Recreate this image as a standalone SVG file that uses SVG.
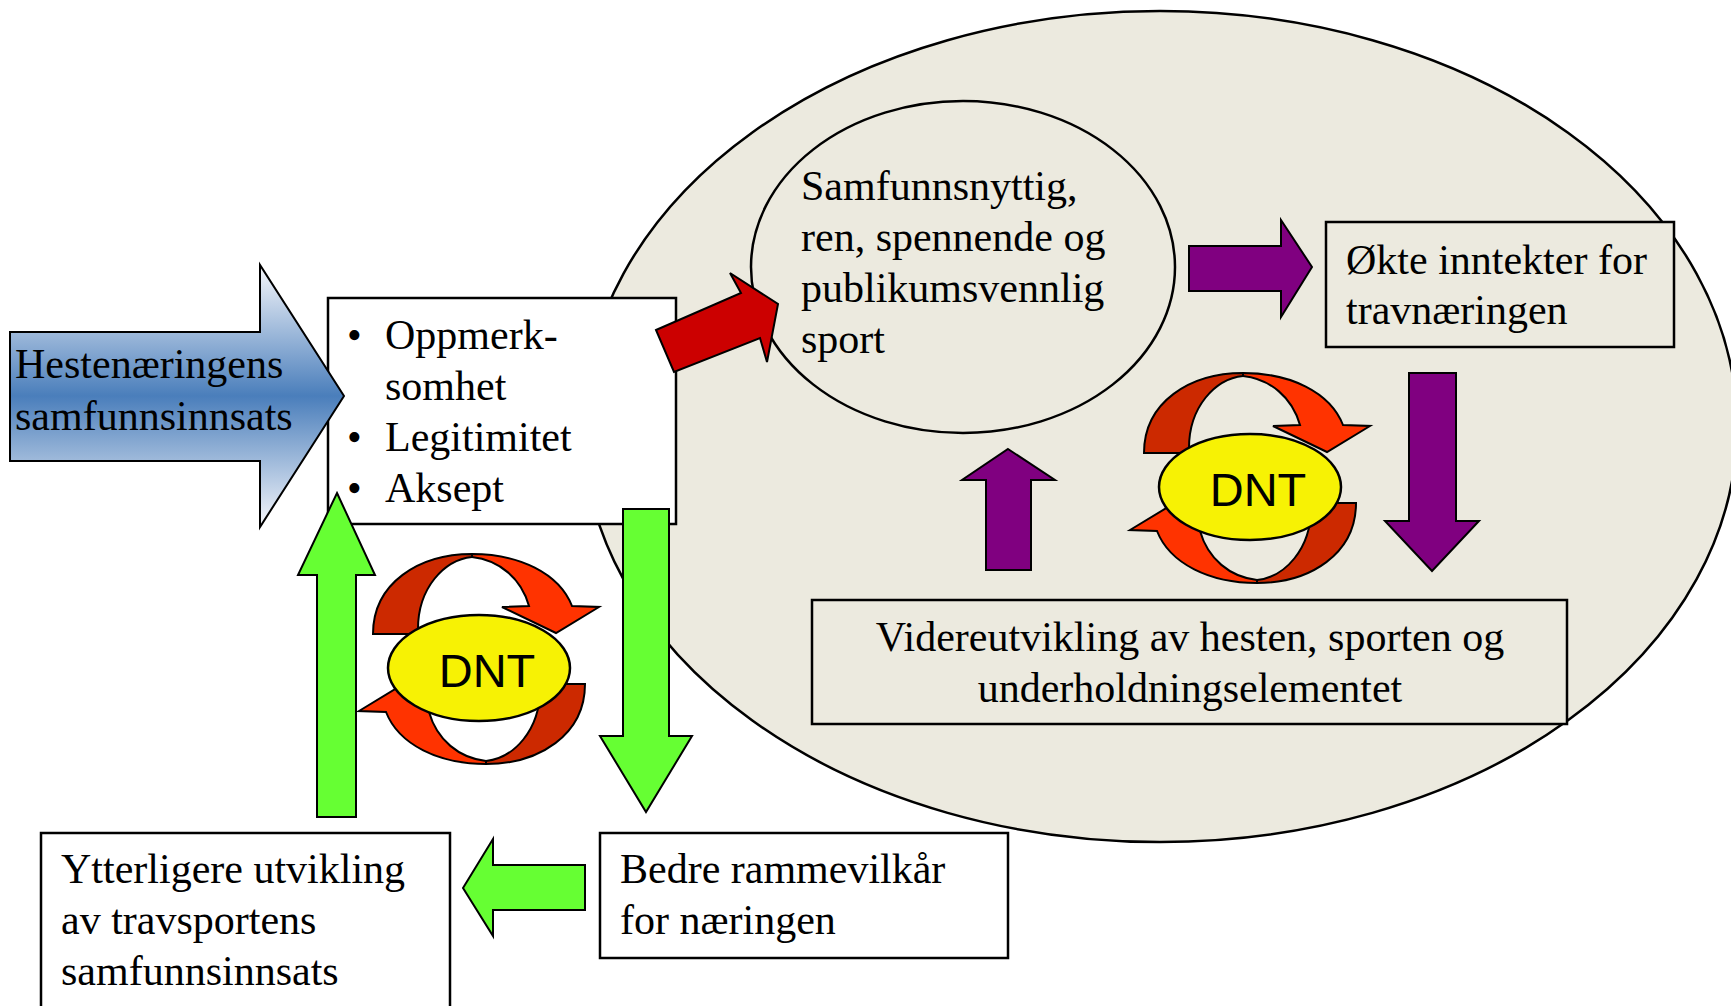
<svg xmlns="http://www.w3.org/2000/svg" width="1731" height="1006" viewBox="0 0 1731 1006">
<defs>
<style>
.t{font-family:"Liberation Serif","Times New Roman",serif;font-size:42px;fill:#000}
.d{font-family:"Liberation Sans",Arial,sans-serif;font-size:47px;fill:#000;text-anchor:middle}
.box{stroke:#000;stroke-width:2.5}
.ln{stroke:#000;stroke-width:2;stroke-linejoin:miter}
.green{fill:#66FF33}
.purple{fill:#800080}
.dk{fill:#CC2900}
.br{fill:#FF3300}
.yel{fill:#F7F204;stroke:#000;stroke-width:2.5}
</style>
<linearGradient id="blueGrad" gradientUnits="userSpaceOnUse" x1="0" y1="265" x2="0" y2="527">
<stop offset="0" stop-color="#F6F7FB"/>
<stop offset="0.5" stop-color="#4A7EBB"/>
<stop offset="1" stop-color="#F6F7FB"/>
</linearGradient>
<g id="cycle">
<path class="dk ln" d="M-106,-34 L-61,-34 L-61,-39 C-61,-80 -35,-108 -7,-111 L-7,-114 C-60,-114 -106,-85 -106,-34 Z"/>
<path class="br ln" d="M-7,-114 C40,-114 80,-95 93,-62 L120,-61 L77,-35 L23,-61 L50,-62 C42,-90 20,-108 -7,-111 Z"/>
<g transform="rotate(180 0 -9)">
<path class="dk ln" d="M-106,-34 L-61,-34 L-61,-39 C-61,-80 -35,-108 -7,-111 L-7,-114 C-60,-114 -106,-85 -106,-34 Z"/>
<path class="br ln" d="M-7,-114 C40,-114 80,-95 93,-62 L120,-61 L77,-35 L23,-61 L50,-62 C42,-90 20,-108 -7,-111 Z"/>
</g>
<ellipse class="yel" cx="0" cy="0" rx="91" ry="53"/>
</g>
</defs>

<g id="bigEllipse">
<ellipse cx="1160" cy="426.5" rx="577" ry="415.5" fill="#ECEADF" stroke="#000" stroke-width="2.5"/>
</g>

<g id="innerEllipse">
<ellipse cx="963" cy="267" rx="212" ry="166" fill="#ECEADF" stroke="#000" stroke-width="2.5"/>
<text class="t" x="801" y="200">Samfunnsnyttig,</text>
<text class="t" x="801" y="251">ren, spennende og</text>
<text class="t" x="801" y="302">publikumsvennlig</text>
<text class="t" x="801" y="353">sport</text>
</g>

<g id="okteBox">
<rect class="box" x="1326" y="222" width="348" height="125" fill="#ECEADF"/>
<text class="t" x="1346" y="274">Økte inntekter for</text>
<text class="t" x="1346" y="324">travnæringen</text>
</g>

<g id="videreBox">
<rect class="box" x="812" y="600" width="755" height="124" fill="#ECEADF"/>
<text class="t" x="1190" y="651" text-anchor="middle">Videreutvikling av hesten, sporten og</text>
<text class="t" x="1190" y="702" text-anchor="middle">underholdningselementet</text>
</g>

<g id="bulletBox">
<rect class="box" x="328" y="298" width="348" height="226" fill="#fff"/>
<text class="t" x="347" y="349">•</text>
<text class="t" x="385" y="349">Oppmerk-</text>
<text class="t" x="385" y="400">somhet</text>
<text class="t" x="347" y="451">•</text>
<text class="t" x="385" y="451">Legitimitet</text>
<text class="t" x="347" y="502">•</text>
<text class="t" x="385" y="502">Aksept</text>
</g>

<g id="ytterligereBox">
<rect class="box" x="41" y="833" width="409" height="180" fill="#fff"/>
<text class="t" x="61" y="883">Ytterligere utvikling</text>
<text class="t" x="61" y="934">av travsportens</text>
<text class="t" x="61" y="985">samfunnsinnsats</text>
</g>

<g id="bedreBox">
<rect class="box" x="600" y="833" width="408" height="125" fill="#fff"/>
<text class="t" x="620" y="883">Bedre rammevilkår</text>
<text class="t" x="620" y="934">for næringen</text>
</g>

<g id="connectors">
<g id="blueArrow">
<path d="M10,332 L260,332 L260,265 L344,396 L260,527 L260,461 L10,461 Z" fill="url(#blueGrad)" stroke="#000" stroke-width="2"/>
<text class="t" x="15" y="378">Hestenæringens</text>
<text class="t" x="15" y="430">samfunnsinnsats</text>
</g>
<path id="redArrow" class="ln" d="M656,330 L741,293 L730,273 L778,304 L767,362 L760,338 L674,372 Z" fill="#CC0000"/>
<path id="greenUp" class="green ln" d="M337,493 L375,575 L356,575 L356,817 L317,817 L317,575 L298,575 Z"/>
<path id="greenDown" class="green ln" d="M623,509 L669,509 L669,736 L692,736 L646,812 L600,736 L623,736 Z"/>
<path id="greenLeft" class="green ln" d="M463,888 L493,839 L493,865 L585,865 L585,910 L493,910 L493,936 Z"/>
<path id="purpleRight" class="purple ln" d="M1189,246 L1281,246 L1281,220 L1312,267 L1281,317 L1281,291 L1189,291 Z"/>
<path id="purpleDown" class="purple ln" d="M1409,373 L1456,373 L1456,521 L1479,521 L1432,571 L1385,521 L1409,521 Z"/>
<path id="purpleUp" class="purple ln" d="M1008,449 L1055,480 L1031,480 L1031,570 L986,570 L986,480 L962,480 Z"/>
</g>

<g id="dntLeft">
<use href="#cycle" transform="translate(479 668)"/>
<text class="d" x="487" y="687">DNT</text>
</g>

<g id="dntRight">
<use href="#cycle" transform="translate(1250 487)"/>
<text class="d" x="1258" y="506">DNT</text>
</g>
</svg>
